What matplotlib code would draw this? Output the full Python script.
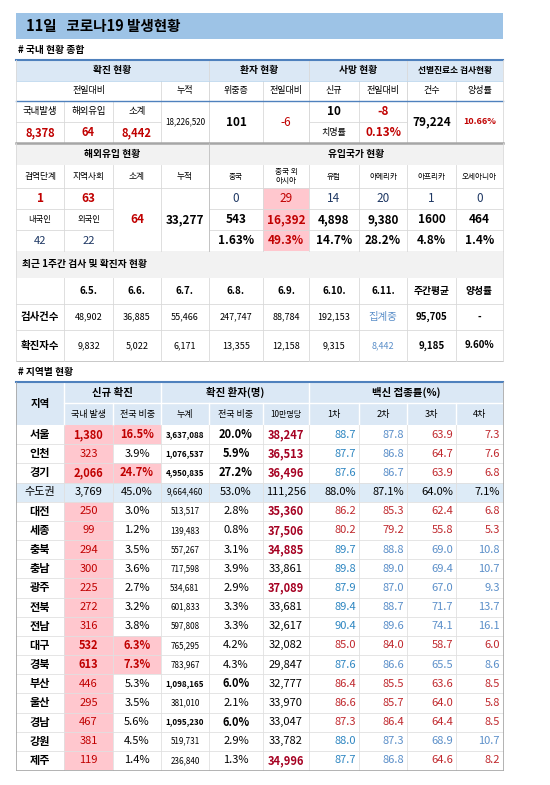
import matplotlib.pyplot as plt
from matplotlib.patches import Rectangle

plt.rcParams['font.family'] = ['Noto Sans CJK KR', 'DejaVu Sans']

W, H = 550, 785
fig = plt.figure(figsize=(5.5, 7.85), dpi=100)
ax = fig.add_axes([0, 0, 1, 1])
ax.set_xlim(0, W)
ax.set_ylim(H, 0)
ax.axis('off')

RED = '#c00000'
DRED = '#a50021'
NAVY = '#1f3864'
PINK = '#ffc7ce'
LBLUE = '#dbe8f5'
GRAY = '#f2f2f2'
LINE = '#d9d9d9'
BLUE1 = '#2e86c1'
BLUE2 = '#5b8fc9'
VRED = '#c0282d'

# ---- data ----
title = '11일   코로나19 발생현황'
dom_new, ovs_new, sub_new = '8,378', '64', '8,442'
cum_total = '18,226,520'
severe, severe_diff = '101', '-6'
death_new, death_diff, fatality = '10', '-8', '0.13%'
tests, pos_rate = '79,224', '10.66%'

quarantine, community, ovs_sub, ovs_cum = '1', '63', '64', '33,277'
korean, foreign = '42', '22'
origin_names = ['중국', '중국 외\n아시아', '유럽', '아메리카', '아프리카', '오세아니아']
origin_new = ['0', '29', '14', '20', '1', '0']
origin_cum = ['543', '16,392', '4,898', '9,380', '1600', '464']
origin_pct = ['1.63%', '49.3%', '14.7%', '28.2%', '4.8%', '1.4%']

week_dates = ['6.5.', '6.6.', '6.7.', '6.8.', '6.9.', '6.10.', '6.11.']
week_tests = ['48,902', '36,885', '55,466', '247,747', '88,784', '192,153', '집계중']
week_cases = ['9,832', '5,022', '6,171', '13,355', '12,158', '9,315', '8,442']
week_avg = ['95,705', '9,185']
week_pos = ['-', '9.60%']

regions = ['서울', '인천', '경기', '수도권', '대전', '세종', '충북', '충남', '광주', '전북',
           '전남', '대구', '경북', '부산', '울산', '경남', '강원', '제주']
reg_new = ['1,380', '323', '2,066', '3,769', '250', '99', '294', '300', '225', '272',
           '316', '532', '613', '446', '295', '467', '381', '119']
reg_new_pct = ['16.5%', '3.9%', '24.7%', '45.0%', '3.0%', '1.2%', '3.5%', '3.6%', '2.7%', '3.2%',
               '3.8%', '6.3%', '7.3%', '5.3%', '3.5%', '5.6%', '4.5%', '1.4%']
reg_cum = ['3,637,088', '1,076,537', '4,950,835', '9,664,460', '513,517', '139,483', '557,267',
           '717,598', '534,681', '601,833', '597,808', '765,295', '783,967', '1,098,165',
           '381,010', '1,095,230', '519,731', '236,840']
reg_cum_pct = ['20.0%', '5.9%', '27.2%', '53.0%', '2.8%', '0.8%', '3.1%', '3.9%', '2.9%', '3.3%',
               '3.3%', '4.2%', '4.3%', '6.0%', '2.1%', '6.0%', '2.9%', '1.3%']
reg_per100k = ['38,247', '36,513', '36,496', '111,256', '35,360', '37,506', '34,885', '33,861',
               '37,089', '33,681', '32,617', '32,082', '29,847', '32,777', '33,970', '33,047',
               '33,782', '34,996']
vac1 = ['88.7', '87.7', '87.6', '88.0%', '86.2', '80.2', '89.7', '89.8', '87.9', '89.4',
        '90.4', '85.0', '87.6', '86.4', '86.6', '87.3', '88.0', '87.7']
vac2 = ['87.8', '86.8', '86.7', '87.1%', '85.3', '79.2', '88.8', '89.0', '87.0', '88.7',
        '89.6', '84.0', '86.6', '85.5', '85.7', '86.4', '87.3', '86.8']
vac3 = ['63.9', '64.7', '63.9', '64.0%', '62.4', '55.8', '69.0', '69.4', '67.0', '71.7',
        '74.1', '58.7', '65.5', '63.6', '64.0', '64.4', '68.9', '64.6']
vac4 = ['7.3', '7.6', '6.8', '7.1%', '6.8', '5.3', '10.8', '10.7', '9.3', '13.7',
        '16.1', '6.0', '8.6', '8.5', '5.8', '8.5', '10.7', '8.2']
# vaccine colour mode per region: 'b' all blue, 'r' all red, 'm' blue/blue/red/red, 'k' black
vac_mode = ['m', 'm', 'm', 'k', 'r', 'r', 'b', 'b', 'b', 'b', 'b', 'r', 'b', 'r', 'r', 'r', 'b', 'm']
hot_regions = ['서울', '경기', '대구', '경북']
bold_cum = ['서울', '인천', '경기', '부산', '경남']
red_per100k = ['서울', '인천', '경기', '대전', '세종', '충북', '광주', '제주']

# ---- helpers ----
X = [16, 64, 113, 161, 209, 263, 309, 359, 407, 456, 503]


def rect(x0, y0, x1, y1, fc, ec='none', lw=0.6):
    ax.add_patch(Rectangle((x0, y0), x1 - x0, y1 - y0, facecolor=fc, edgecolor=ec, lw=lw))


def txt(x, y, s, size=7, color='black', bold=False, ha='center'):
    ax.text(x, y, s, fontsize=size, color=color, ha=ha, va='center',
            fontweight='bold' if bold else 'normal', linespacing=1.1)


def cell(c0, c1, y0, y1, s, **kw):
    txt((X[c0] + X[c1]) / 2, (y0 + y1) / 2, s, **kw)


def hline(y, x0=16, x1=503, color=LINE, lw=0.6):
    ax.plot([x0, x1], [y, y], color=color, lw=lw)


def vline(x, y0, y1, color=LINE, lw=0.6):
    ax.plot([x, x], [y0, y1], color=color, lw=lw)


# ---- title ----
rect(16, 13, 503, 39, '#9dc3e6')
txt(26, 26, title, size=10.5, bold=True, ha='left')
txt(18, 50, '# 국내 현황 종합', size=7, bold=True, ha='left')

# ---- top section ----
rect(16, 60, 503, 81, LBLUE)
cell(0, 4, 60, 81, '확진 현황', bold=True)
cell(4, 6, 60, 81, '환자 현황', bold=True)
cell(6, 8, 60, 81, '사망 현황', bold=True)
cell(8, 10, 60, 81, '선별진료소 검사현황', bold=True, size=6.3)
cell(0, 3, 81, 101, '전일대비', size=6.5)
for i, s in enumerate(['누적', '위중증', '전일대비', '신규', '전일대비', '건수', '양성률']):
    cell(3 + i, 4 + i, 81, 101, s, size=6.5)
for i, s in enumerate(['국내발생', '해외유입', '소계']):
    cell(i, i + 1, 101, 122, s, size=6.8)
for i, s in enumerate([dom_new, ovs_new, sub_new]):
    cell(i, i + 1, 122, 143, s, size=8, color=RED, bold=True)
cell(3, 4, 101, 143, cum_total, size=5.8)
cell(4, 5, 101, 143, severe, size=8.5, bold=True)
cell(5, 6, 101, 143, severe_diff, size=8.5, color=RED)
cell(6, 7, 101, 122, death_new, size=8.5, bold=True)
cell(7, 8, 101, 122, death_diff, size=8.5, color=RED, bold=True)
cell(6, 7, 122, 143, '치명률', size=6.5)
cell(7, 8, 122, 143, fatality, size=8.5, color=RED, bold=True)
cell(8, 9, 101, 143, tests, size=8.5, bold=True)
cell(9, 10, 101, 143, pos_rate, size=6.5, color=RED, bold=True)
for x in X[1:10]:
    vline(x, 81 if x != X[1] and x != X[2] else 101, 143)
for x in [X[4], X[6], X[8]]:
    vline(x, 60, 143)
hline(81, color='#bdd7ee')
hline(101, color='#4f81bd', lw=1)
hline(122, 16, 161)
hline(122, 309, 407)
hline(60, color='#4f81bd', lw=1.5)
vline(16, 60, 143)
vline(503, 60, 143)

# ---- overseas section ----
rect(16, 143, 503, 165, GRAY)
rect(X[5], 188, X[6], 251, PINK)
cell(0, 4, 143, 165, '해외유입 현황', bold=True)
cell(4, 10, 143, 165, '유입국가 현황', bold=True)
for i, s in enumerate(['검역단계', '지역사회', '소계', '누적']):
    cell(i, i + 1, 165, 188, s, size=6.3)
for i, s in enumerate(origin_names):
    cell(4 + i, 5 + i, 165, 188, s, size=5.5)
cell(0, 1, 188, 209, quarantine, size=8.5, color=RED, bold=True)
cell(1, 2, 188, 209, community, size=8.5, color=RED, bold=True)
cell(0, 1, 209, 230, '내국인', size=6)
cell(1, 2, 209, 230, '외국인', size=6)
cell(0, 1, 230, 251, korean, size=8, color=NAVY)
cell(1, 2, 230, 251, foreign, size=8, color=NAVY)
cell(2, 3, 188, 251, ovs_sub, size=8.5, color=RED, bold=True)
cell(3, 4, 188, 251, ovs_cum, size=8.5, bold=True)
for i in range(6):
    hot = i == 1
    cell(4 + i, 5 + i, 188, 209, origin_new[i], size=8.5, color=RED if hot else NAVY)
    cell(4 + i, 5 + i, 209, 230, origin_cum[i], size=8.5, bold=True, color=RED if hot else 'black')
    cell(4 + i, 5 + i, 230, 251, origin_pct[i], size=8.5, bold=True, color=RED if hot else 'black')
hline(143, color='#a6a6a6', lw=1.8)
hline(165, color='white')
hline(188)
hline(209, 16, 113)
hline(209, 209, 503)
hline(230, 16, 113)
hline(230, 209, 503)
for x in X[1:10]:
    vline(x, 165, 251)
vline(X[4], 143, 251, color='#bfbfbf')
vline(16, 143, 251)
vline(503, 143, 251)

# ---- weekly section ----
rect(16, 251, 503, 278, GRAY)
txt(22, 264, '최근 1주간 검사 및 확진자 현황', size=7, bold=True, ha='left')
for i, d in enumerate(week_dates):
    cell(1 + i, 2 + i, 278, 304, d, size=7, bold=True)
cell(8, 9, 278, 304, '주간평균', size=7, bold=True)
cell(9, 10, 278, 304, '양성률', size=7, bold=True)
cell(0, 1, 304, 330, '검사건수', size=7.5, bold=True)
cell(0, 1, 330, 361, '확진자수', size=7.5, bold=True)
for i in range(7):
    last = i == 6
    cell(1 + i, 2 + i, 304, 330, week_tests[i], size=7.5 if last else 6.5,
         color=BLUE2 if last else 'black')
    cell(1 + i, 2 + i, 330, 361, week_cases[i], size=6.5, color=BLUE2 if last else 'black')
cell(8, 9, 304, 330, week_avg[0], size=7, bold=True)
cell(8, 9, 330, 361, week_avg[1], size=7, bold=True)
cell(9, 10, 304, 330, week_pos[0], size=7, bold=True)
cell(9, 10, 330, 361, week_pos[1], size=7, bold=True)
for y in [304, 330]:
    hline(y)
hline(361, color='#bfbfbf')
for x in X[1:10]:
    vline(x, 278, 361)
vline(16, 251, 361)
vline(503, 251, 361)

# ---- regional section ----
txt(18, 372, '# 지역별 현황', size=7, bold=True, ha='left')
rect(16, 382, 503, 425, LBLUE)
cell(0, 1, 382, 425, '지역', size=7.5, bold=True)
cell(1, 3, 382, 403, '신규 확진', size=7.5, bold=True)
cell(3, 6, 382, 403, '확진 환자(명)', size=7.5, bold=True)
cell(6, 10, 382, 403, '백신 접종률(%)', size=7.5, bold=True)
for i, s in enumerate(['국내 발생', '전국 비중', '누계', '전국 비중', '10만명당',
                       '1차', '2차', '3차', '4차']):
    cell(1 + i, 2 + i, 403, 425, s, size=6.5 if i != 4 else 5.8)
hline(403, 64, 503, color='white', lw=1)
for x in [X[1], X[3], X[6]]:
    vline(x, 382, 425, color='white', lw=1)
for x in X[2:10]:
    if x not in (X[3], X[6]):
        vline(x, 403, 425, color='white', lw=1)

y0, rh = 425, (770 - 425) / len(regions)
for r, name in enumerate(regions):
    ya, yb = y0 + r * rh, y0 + (r + 1) * rh
    capital = name == '수도권'
    hot = name in hot_regions
    if capital:
        rect(16, ya, 503, yb, '#ddebf7')
    else:
        rect(X[1], ya, X[2], yb, PINK)
        if hot:
            rect(X[2], ya, X[3], yb, PINK)
    nrm = 'black' if capital else RED
    cell(0, 1, ya, yb, name, size=8, bold=not capital)
    cell(1, 2, ya, yb, reg_new[r], size=8, color=nrm, bold=hot)
    cell(2, 3, ya, yb, reg_new_pct[r], size=8, color=RED if hot else 'black', bold=hot)
    bc = name in bold_cum
    cell(3, 4, ya, yb, reg_cum[r], size=5.8, bold=bc)
    cell(4, 5, ya, yb, reg_cum_pct[r], size=8, bold=bc)
    rp = name in red_per100k
    cell(5, 6, ya, yb, reg_per100k[r], size=8, bold=rp, color=DRED if rp else 'black')
    m = vac_mode[r]
    cols = {'b': [BLUE1, BLUE2, BLUE2, BLUE2], 'r': [VRED] * 4,
            'm': [BLUE1, BLUE2, VRED, VRED], 'k': ['black'] * 4}[m]
    for k, v in enumerate([vac1[r], vac2[r], vac3[r], vac4[r]]):
        txt(X[7 + k] - 3, (ya + yb) / 2, v, size=8, color=cols[k], ha='right')
    if r:
        hline(ya, color='#e0e0e0')
for x in X[1:10]:
    vline(x, 425, 770, color='#e0e0e0')
hline(382, color='#4f81bd', lw=1.5)
vline(16, 382, 770, color='#a6a6a6')
vline(503, 382, 770, color='#a6a6a6')
hline(770, color='#a6a6a6')

fig.savefig('out.png', dpi=100)
